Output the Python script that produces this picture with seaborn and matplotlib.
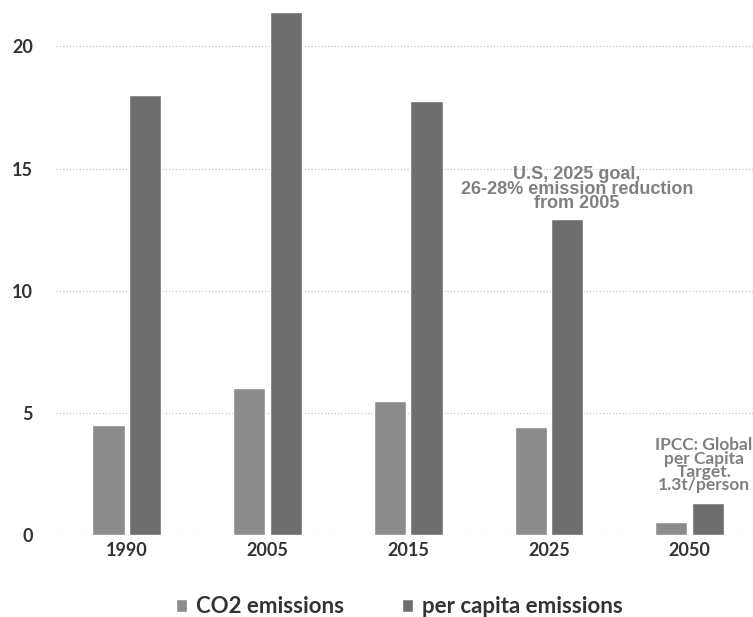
import pandas as pd
import matplotlib.pyplot as plt
import seaborn as sns

# Values
years = ['1990', '2005', '2015', '2025', '2050']
co2_emissions = [4.5, 6.0, 5.5, 4.4, 0.55]
per_capita_emissions = [18.0, 21.4, 17.75, 12.95, 1.3]
series_names = ['CO2 emissions', 'per capita emissions']

df = pd.DataFrame({
    'year': years * 2,
    'value': co2_emissions + per_capita_emissions,
    'series': [series_names[0]] * len(years) + [series_names[1]] * len(years),
})

sns.set_style('white')
plt.rcParams['font.family'] = ['Lato', 'DejaVu Sans']

fig = plt.figure(figsize=(7.53, 6.17), dpi=100)
ax = fig.add_axes([0.075, 0.133, 0.925, 0.867])

palette = {series_names[0]: '#8c8c8c', series_names[1]: '#6e6e6e'}
sns.barplot(data=df, x='year', y='value', hue='series', palette=palette,
            width=0.52, gap=0.12, saturation=1, ax=ax, legend=True)

ax.set_ylim(0, 21.9)
ax.set_xlim(-0.5, 4.45)
ax.set_yticks([0, 5, 10, 15, 20])
ax.set_xlabel('')
ax.set_ylabel('')
sns.despine(left=True, bottom=True)
ax.yaxis.grid(True, linestyle=':', color='#c4c4c4', linewidth=0.9)
ax.set_axisbelow(True)
ax.tick_params(axis='both', length=0, labelsize=13, colors='#333333')
ax.tick_params(axis='x', pad=5)
ax.tick_params(axis='y', pad=17)
for lab in ax.get_xticklabels() + ax.get_yticklabels():
    lab.set_fontweight('bold')

ax.text(3.2, 14.15, 'U.S, 2025 goal,\n26-28% emission reduction\nfrom 2005',
        ha='center', va='center', fontsize=13, color='#808080',
        family=['Liberation Sans', 'DejaVu Sans'], fontweight='bold', linespacing=0.8)
ax.text(4.1, 2.85, 'IPCC: Global\nper Capita\nTarget.\n1.3t/person',
        ha='center', va='center', fontsize=12.5, color='#808080',
        fontweight='bold', linespacing=0.8)

handles, labels = ax.get_legend_handles_labels()
ax.get_legend().remove()
fig.legend(handles, labels, loc='lower center', bbox_to_anchor=(0.53, -0.033), ncol=2,
           frameon=False, handlelength=0.5, handleheight=0.5, handletextpad=0.4,
           columnspacing=2.6, prop={'size': 16, 'weight': 'bold'},
           labelcolor='#333333')

fig.savefig('out.png', dpi=100)
